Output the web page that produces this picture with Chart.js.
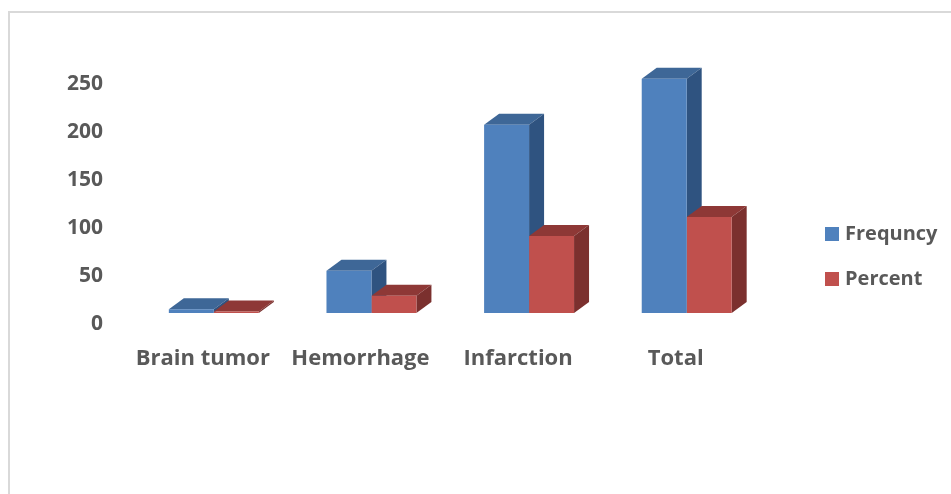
<!DOCTYPE html>
<html>
<head>
<meta charset="utf-8">
<script src="https://cdn.jsdelivr.net/npm/chart.js@4"></script>
<style>
  html, body { margin: 0; background: #fff; overflow: hidden; }
  #frame { position: absolute; left: 8px; top: 11px; width: 960px; height: 500px; border-left: 2px solid #d9d9d9; border-top: 2px solid #d9d9d9; }
  #wrap { position: absolute; left: 0; top: 0; width: 951px; height: 494px; }
</style>
</head>
<body>
<div id="frame"></div>
<div id="wrap"><canvas id="chart"></canvas></div>
<script>
const categories = ['Brain tumor', 'Hemorrhage', 'Infarction', 'Total'];
const frequency = [4, 44, 196, 244];
const percent = [1.6, 18, 80.3, 100];
const yTicks = [0, 50, 100, 150, 200, 250];

const labelColor = '#595959';

// depth of the fake 3D extrusion, in pixels
const depthX = 15;
const depthY = 11;

const shades = [
  { top: '#3e6797', side: '#2f5380' },
  { top: '#8e3836', side: '#7b302e' }
];

function boldFont(size) {
  return { family: 'Open Sans', size: size, weight: '700' };
}

function polygon(ctx, pts, fill) {
  ctx.fillStyle = fill;
  ctx.beginPath();
  ctx.moveTo(pts[0][0], pts[0][1]);
  for (let i = 1; i < pts.length; i++) {
    ctx.lineTo(pts[i][0], pts[i][1]);
  }
  ctx.closePath();
  ctx.fill();
}

// top and side faces go under the bar fronts, frequency first so percent overlaps it
const extrude = {
  id: 'extrude',
  beforeDatasetsDraw(chart) {
    const ctx = chart.ctx;
    chart.data.datasets.forEach(function(ds, d) {
      chart.getDatasetMeta(d).data.forEach(function(bar) {
        const l = bar.x - bar.width / 2;
        const r = bar.x + bar.width / 2;
        const t = bar.y;
        const b = bar.base;
        polygon(ctx, [[l, t], [l + depthX, t - depthY], [r + depthX, t - depthY], [r, t]], shades[d].top);
        polygon(ctx, [[r, t], [r + depthX, t - depthY], [r + depthX, b - depthY], [r, b]], shades[d].side);
      });
    });
  }
};

// legend sits to the right of the plot with a gap wider than its own padding
const legendSpot = {
  id: 'legendSpot',
  afterLayout(chart) {
    const lg = chart.legend;
    const pad = lg.options.labels.padding;
    const w = lg.right - lg.left;
    const h = lg.bottom - lg.top;
    lg.left = 829 - pad;
    lg.right = lg.left + w;
    lg.top = 224 - pad;
    lg.bottom = lg.top + h;
    lg.adjustHitBoxes();
  }
};

const myChart = new Chart(document.getElementById('chart'), {
  type: 'bar',
  data: {
    labels: categories,
    datasets: [
      { label: 'Frequncy', data: frequency, backgroundColor: '#4f81bd', borderWidth: 0 },
      { label: 'Percent', data: percent, backgroundColor: '#c0504d', borderWidth: 0 }
    ]
  },
  options: {
    responsive: true,
    maintainAspectRatio: false,
    animation: false,
    layout: { padding: { top: 73, right: 42, left: 0, bottom: 0 } },
    datasets: { bar: { categoryPercentage: 0.5706, barPercentage: 1 } },
    scales: {
      x: {
        grid: { display: false },
        border: { display: false },
        afterFit: function(scale) { scale.height = 181; },
        ticks: { font: boldFont(22), color: labelColor, padding: 25, labelOffset: -11, maxRotation: 0 }
      },
      y: {
        min: 0,
        max: 250,
        grid: { display: false },
        border: { display: false },
        afterFit: function(scale) { scale.width = 135; },
        afterBuildTicks: function(scale) { scale.ticks = yTicks.map(function(v) { return { value: v }; }); },
        ticks: { font: boldFont(21), color: labelColor, padding: 24, labelOffset: 11 }
      }
    },
    plugins: {
      tooltip: { enabled: false },
      legend: {
        position: 'right',
        align: 'start',
        labels: {
          font: boldFont(20),
          color: labelColor,
          padding: 25,
          boxWidth: 6,
          boxHeight: 6,
          generateLabels: function(chart) {
            // thick same-colour stroke makes a 14px swatch with a tighter text gap
            return Chart.defaults.plugins.legend.labels.generateLabels(chart).map(function(item) {
              item.lineWidth = 8;
              item.strokeStyle = item.fillStyle;
              return item;
            });
          }
        }
      }
    }
  },
  plugins: [extrude, legendSpot]
});
</script>
</body>
</html>
